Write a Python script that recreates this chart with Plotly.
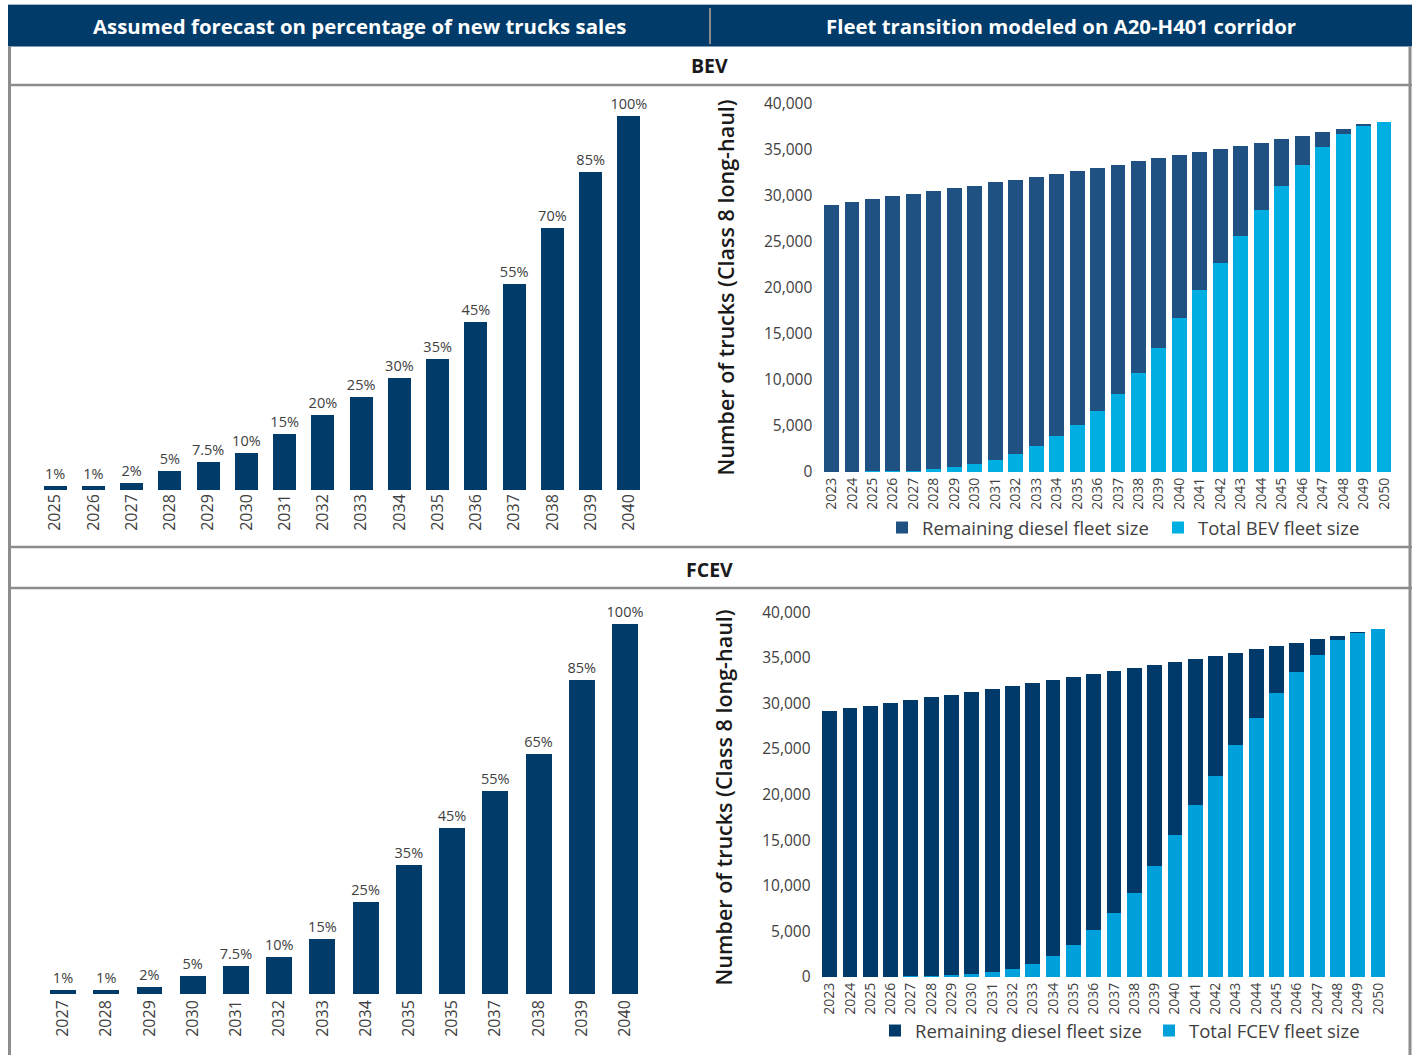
import plotly.graph_objects as go

W, H = 1416, 1055


def px(x):
    return x / W


def py(y):
    return 1 - y / H


# ---------------- data ----------------
bev_sales_years = ["2025", "2026", "2027", "2028", "2029", "2030", "2031", "2032",
                   "2033", "2034", "2035", "2036", "2037", "2038", "2039", "2040"]
bev_sales_pct = [1, 1, 2, 5, 7.5, 10, 15, 20, 25, 30, 35, 45, 55, 70, 85, 100]

fcev_sales_years = ["2027", "2028", "2029", "2030", "2031", "2032", "2033",
                    "2034", "2035", "2035", "2037", "2038", "2039", "2040"]
fcev_sales_pct = [1, 1, 2, 5, 7.5, 10, 15, 25, 35, 45, 55, 65, 85, 100]

fleet_years = ["2023", "2024", "2025", "2026", "2027", "2028", "2029", "2030",
               "2031", "2032", "2033", "2034", "2035", "2036", "2037", "2038",
               "2039", "2040", "2041", "2042", "2043", "2044", "2045", "2046",
               "2047", "2048", "2049", "2050"]

bev_fleet = [20, 30, 70, 90, 150, 360, 580, 910, 1340, 1990, 2860, 3950, 5140,
             6670, 8510, 10800, 13510, 16780, 19820, 22750, 25690, 28510, 31120,
             33410, 35360, 36780, 37610, 38040]
bev_diesel_fleet = [29000, 29320, 29600, 29910, 30070, 30180, 30290, 30180, 30180,
                    29750, 29210, 28440, 27580, 26370, 24860, 23000, 20620, 17680,
                    14960, 12360, 9740, 7250, 5080, 3110, 1600, 500, 110, 0]

fcev_fleet = [0, 0, 20, 30, 110, 150, 220, 330, 550, 880, 1430, 2310, 3520, 5160,
              7030, 9230, 12200, 15600, 18900, 22090, 25490, 28460, 31100, 33410,
              35270, 36920, 37770, 38210]
fcev_diesel_fleet = [29190, 29490, 29720, 30040, 30290, 30580, 30730, 30950, 31060,
                     31060, 30840, 30290, 29410, 28100, 26560, 24690, 22050, 18980,
                     16010, 13150, 10080, 7550, 5240, 3260, 1840, 520, 30, 0]

header_left = "Assumed forecast on percentage of new trucks sales"
header_right = "Fleet transition modeled on A20-H401 corridor"
y_title = "Number of trucks (Class 8 long-haul)"

# ---------------- styles ----------------
NAVY = "#003b6a"
BEV_DIESEL = "#1f5283"
FCEV_DIESEL = "#003a6a"
BEV_LIGHT = "#00aee1"
FCEV_LIGHT = "#00a0da"
GRID_GRAY = "#8c8c8c"
TXT = "#404040"
OPEN = "Open Sans, sans-serif"

fig = go.Figure()

# left top: BEV sales share
fig.add_trace(go.Bar(
    x=list(range(len(bev_sales_years))), y=bev_sales_pct,
    text=[f"{v:g}%" for v in bev_sales_pct], textposition="outside",
    constraintext="none",
    textfont=dict(family=OPEN, size=14.5, color=TXT),
    marker=dict(color=NAVY, line=dict(width=0)), width=0.6,
    cliponaxis=False, showlegend=False, xaxis="x", yaxis="y",
    hoverinfo="skip"))

# right top: BEV fleet
fig.add_trace(go.Bar(
    x=fleet_years, y=bev_fleet, name="Total BEV fleet size",
    marker=dict(color=BEV_LIGHT, line=dict(width=0)), width=0.73,
    xaxis="x2", yaxis="y2", legend="legend", legendrank=2))
fig.add_trace(go.Bar(
    x=fleet_years, y=bev_diesel_fleet, name="Remaining diesel fleet size",
    marker=dict(color=BEV_DIESEL, line=dict(width=0)), width=0.73,
    xaxis="x2", yaxis="y2", legend="legend", legendrank=1))

# left bottom: FCEV sales share
fig.add_trace(go.Bar(
    x=list(range(len(fcev_sales_years))), y=fcev_sales_pct,
    text=[f"{v:g}%" for v in fcev_sales_pct], textposition="outside",
    constraintext="none",
    textfont=dict(family=OPEN, size=14.5, color=TXT),
    marker=dict(color=NAVY, line=dict(width=0)), width=0.6,
    cliponaxis=False, showlegend=False, xaxis="x3", yaxis="y3",
    hoverinfo="skip"))

# right bottom: FCEV fleet
fig.add_trace(go.Bar(
    x=fleet_years, y=fcev_fleet, name="Total FCEV fleet size",
    marker=dict(color=FCEV_LIGHT, line=dict(width=0)), width=0.73,
    xaxis="x4", yaxis="y4", legend="legend2", legendrank=2))
fig.add_trace(go.Bar(
    x=fleet_years, y=fcev_diesel_fleet, name="Remaining diesel fleet size",
    marker=dict(color=FCEV_DIESEL, line=dict(width=0)), width=0.73,
    xaxis="x4", yaxis="y4", legend="legend2", legendrank=1))

common_x = dict(showgrid=False, zeroline=False, showline=False, ticks="",
                tickangle=-90, fixedrange=True, automargin=False)
common_y_hidden = dict(visible=False, fixedrange=True, automargin=False)
common_y_fleet = dict(showgrid=False, zeroline=False, showline=False, ticks="",
                      tickvals=[0, 5000, 10000, 15000, 20000, 25000, 30000, 35000, 40000],
                      tickformat=",", ticklabelstandoff=8, automargin=False,
                      tickfont=dict(family=OPEN, size=15.5, color=TXT), fixedrange=True)

fig.update_layout(
    width=W, height=H, margin=dict(l=0, r=0, t=0, b=0, pad=0, autoexpand=False),
    paper_bgcolor="white", plot_bgcolor="white",
    barmode="stack",
    xaxis=dict(domain=[px(36), px(648)], range=[-0.5, len(bev_sales_years) - 0.5],
               tickvals=list(range(len(bev_sales_years))), ticktext=bev_sales_years,
               tickfont=dict(family=OPEN, size=16, color=TXT), ticklabelstandoff=0,
               anchor="y", **common_x),
    yaxis=dict(domain=[py(490), py(100)], range=[0, 104.3], anchor="x", **common_y_hidden),
    xaxis2=dict(domain=[px(821.3), px(1394.2)], type="category",
                tickfont=dict(family=OPEN, size=14, color=TXT), ticklabelstandoff=2,
                anchor="y2", **common_x),
    yaxis2=dict(domain=[py(472), py(100)], range=[0, 40435], anchor="x2", **common_y_fleet),
    xaxis3=dict(domain=[px(41.4), px(646.6)], range=[-0.5, len(fcev_sales_years) - 0.5],
                tickvals=list(range(len(fcev_sales_years))), ticktext=fcev_sales_years,
                tickfont=dict(family=OPEN, size=16, color=TXT), ticklabelstandoff=2,
                anchor="y3", **common_x),
    yaxis3=dict(domain=[py(994), py(610)], range=[0, 103.8], anchor="x3", **common_y_hidden),
    xaxis4=dict(domain=[px(819.5), px(1388.2)], type="category",
                tickfont=dict(family=OPEN, size=14, color=TXT), ticklabelstandoff=2,
                anchor="y4", **common_x),
    yaxis4=dict(domain=[py(977), py(608)], range=[0, 40472], anchor="x4", **common_y_fleet),
    legend=dict(orientation="h", x=px(882), y=py(528), xanchor="left", yanchor="middle",
                font=dict(family=OPEN, size=18.5, color=TXT), bgcolor="rgba(0,0,0,0)",
                entrywidth=231, entrywidthmode="pixels", traceorder="normal"),
    legend2=dict(orientation="h", x=px(875), y=py(1031), xanchor="left", yanchor="middle",
                 font=dict(family=OPEN, size=18.5, color=TXT), bgcolor="rgba(0,0,0,0)",
                 entrywidth=229, entrywidthmode="pixels", traceorder="normal"),
)

shapes = [
    # header band
    dict(type="rect", xref="paper", yref="paper", x0=px(8), x1=px(1412), y0=py(46.5), y1=py(5),
         fillcolor=NAVY, line=dict(width=0), layer="below"),
    dict(type="line", xref="paper", yref="paper", x0=px(8), x1=px(1412), y0=py(4.5), y1=py(4.5),
         line=dict(color="#a9b7c6", width=1)),
    dict(type="line", xref="paper", yref="paper", x0=px(710), x1=px(710), y0=py(8), y1=py(44),
         line=dict(color="#8a8a8a", width=2)),
    # outer verticals
    dict(type="line", xref="paper", yref="paper", x0=px(9.5), x1=px(9.5), y0=py(46.5), y1=py(1055),
         line=dict(color=GRID_GRAY, width=3)),
    dict(type="line", xref="paper", yref="paper", x0=px(1410), x1=px(1410), y0=py(46.5), y1=py(1055),
         line=dict(color=GRID_GRAY, width=3)),
]
for yy in (85, 547, 588):
    shapes.append(dict(type="line", xref="paper", yref="paper", x0=px(8), x1=px(1412),
                       y0=py(yy), y1=py(yy), line=dict(color=GRID_GRAY, width=2.5)))
fig.update_layout(shapes=shapes)

HEAD_FONT = dict(family=OPEN, size=20.4, color="white", weight="bold")
SEC_FONT = dict(family=OPEN, size=19.5, color="#1a1a1a", weight="bold")
annotations = [
    dict(text=header_left, x=px(359.5), y=py(26), font=HEAD_FONT),
    dict(text=header_right, x=px(1060.5), y=py(26), font=HEAD_FONT),
    dict(text="BEV", x=px(710), y=py(66), font=SEC_FONT),
    dict(text="FCEV", x=px(710), y=py(569), font=SEC_FONT),
    dict(text=y_title, x=px(725), y=py(287.5), textangle=-90,
         font=dict(family=OPEN, size=21.5, color="#1a1a1a", weight=600)),
    dict(text=y_title, x=px(723), y=py(797.5), textangle=-90,
         font=dict(family=OPEN, size=21.5, color="#1a1a1a", weight=600)),
]
for a in annotations:
    a.update(xref="paper", yref="paper", showarrow=False, xanchor="center", yanchor="middle")
fig.update_layout(annotations=annotations)

fig.write_html("out.html")
